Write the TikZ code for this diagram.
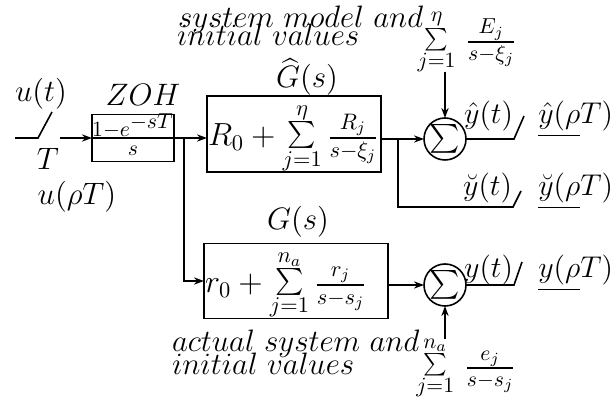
\RequirePackage{fix-cm}
\documentclass[tikz,border=0pt]{standalone}
\usepackage{amsmath}
\usetikzlibrary{arrows.meta}
\newcommand{\limsum}[2]{\mathop{\vcenter{\offinterlineskip\halign{\hfil##\hfil\cr
  $\scriptstyle#2$\cr\noalign{\kern1.2pt}
  \scalebox{0.78}{$\sum$}\cr\noalign{\kern1.2pt}
  $\scriptstyle#1$\cr}}}}
\newcommand{\lowered}[1]{\raisebox{-2pt}[\height][\depth]{#1}}
\begin{document}
\begin{tikzpicture}[x=0.5pt,y=-0.5pt,
  every node/.style={font=\fontsize{15.5}{18}\selectfont, inner sep=0pt, outer sep=0pt},
  blk/.style={draw, line width=0.8pt, font=\fontsize{16}{19}\selectfont, align=left},
  conn/.style={line width=0.8pt},
  arr/.style={conn, -{Stealth[length=5pt,width=3.6pt]}},
  sumc/.style={draw, circle, line width=0.8pt, minimum size=21pt, font=\fontsize{14}{17}\selectfont},
  lbl/.style={anchor=base},
  lble/.style={anchor=base east, font=\fontsize{15}{18}\selectfont},
  lblw/.style={anchor=base west}
]
\useasboundingbox (0,0) rectangle (616,416);

% blocks
\node[draw, line width=0.8pt, minimum width=41pt, minimum height=23.5pt] (zoh) at (133,138) {};
\node (zohn) at (133,126) {$\scriptstyle 1-e^{\scriptstyle -sT}$};
\node (zohd) at (133,151) {$\scriptstyle s$};
\node[blk, text width=86pt, inner xsep=0.5pt, minimum height=38pt] (ghat) at (294,134)
  {\lowered{$R_0+\limsum{j=1}{\eta}\frac{R_j}{s-\xi_j}$}};
\node[blk, text width=91pt, inner xsep=0.5pt, minimum height=37.5pt] (g) at (296,281)
  {\lowered{$r_0+\limsum{j=1}{n_a}\frac{r_j}{s-s_j}$}};
\node[sumc] (s1) at (445,139) {$\sum$};
\node[sumc] (s2) at (445,285) {$\sum$};
\node (E) at (467,42) {$\limsum{j=1}{\eta}\,\frac{E_j}{s-\xi_j}$};
\node (e) at (466,368) {$\limsum{j=1}{n_a}\,\frac{e_j}{s-s_j}$};

% labels
\node[lbl] (ut) at (41,102) {$u(t)$};
\node[lbl] (T) at (48,170) {$T$};
\node[lbl] (urt) at (77,205) {$u(\rho T)$};
\node[lbl] (zohl) at (143,106) {$ZOH$};
\node[lbl] (ghl) at (307,88) {$\widehat{G}(s)$};
\node[lbl] (gl) at (298,230) {$G(s)$};
\node[lblw] (sm1) at (178,28) {$system\ model\ and$};
\node[lblw] (sm2) at (177,46) {$initial\ values$};
\node[lblw] (as1) at (172,352) {$actual\ system\ and$};
\node[lblw] (as2) at (172,375) {$initial\ values$};
\node[lble] (yht) at (513,124) {$\hat y(t)$};
\node[lble] (yhr) at (613,124) {$\underline{\hat y(\rho}T)$};
\node[lble] (ybt) at (512,196) {$\breve y(t)$};
\node[lble] (ybr) at (613,196) {$\underline{\breve y(\rho}T)$};
\node[lble] (yt) at (513,278) {$y(t)$};
\node[lble] (yr) at (613,278) {$\underline{y(\rho}T)$};

% input switch
\coordinate (in) at (15,138);
\coordinate (sw1) at (38,138);
\coordinate (sw2) at (52,112);
\coordinate (sw3) at (60,138);
\draw[conn] (in) -- (sw1) -- (sw2);
\draw[arr] (sw3) -- (sw3 -| zoh.west);

% connections
\draw[conn] (zoh.west) -- (zoh.east);
\draw[arr] (zoh.east) -- (zoh.east -| ghat.west);
\coordinate (b1) at ([xshift=5pt]zoh.east);
\draw[arr] (b1) -- (b1 |- g.west) -- (g.west);
\draw[arr] (ghat.east |- s1.west) -- (s1.west);
\draw[arr] (g.east |- s2.west) -- (s2.west);
\draw[arr] (E.south -| s1.north) -- (s1.north);
\draw[arr] (e.north -| s2.south) -- (s2.south);

% outputs
\draw[conn] (s1.east) -- ++(48,0) -- ++(10,-23);
\coordinate (b2) at ([xshift=8.5pt]ghat.east |- s1.west);
\draw[conn] (b2) -- ++(0,68) -- ++(115,0) -- ++(8,-16);
\draw[conn] (s2.east) -- ++(48,0) -- ++(8,-23);
\end{tikzpicture}
\end{document}
